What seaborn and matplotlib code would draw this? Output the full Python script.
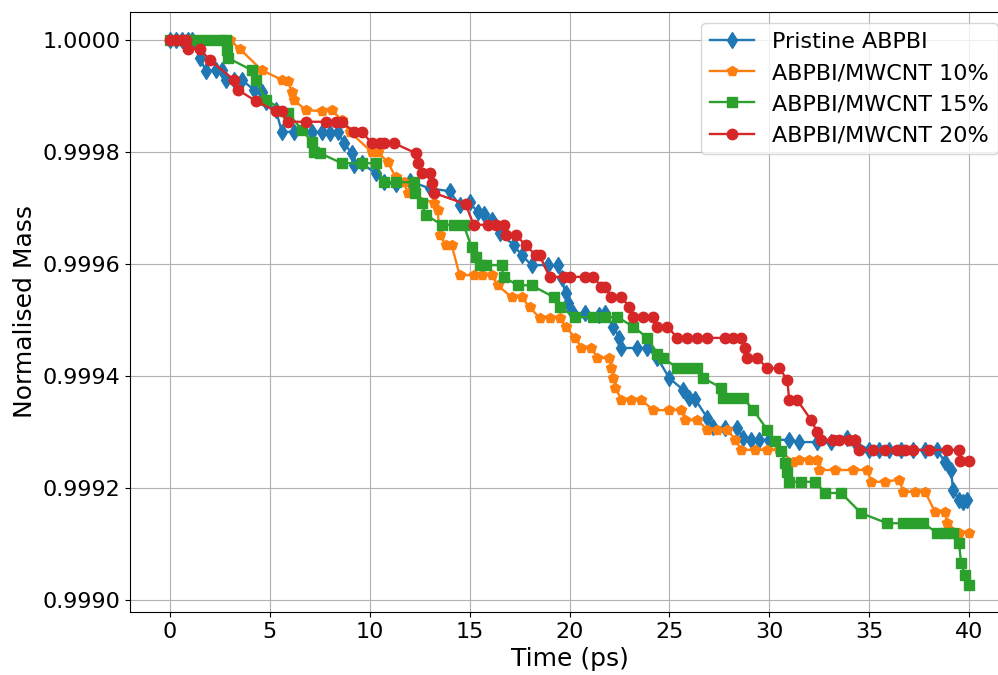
import matplotlib
matplotlib.use("Agg")
import matplotlib.pyplot as plt
import seaborn as sns
import numpy as np
import pandas as pd
from matplotlib.ticker import FormatStrFormatter, MultipleLocator

# ---- data (time in ps, mass loss read as units of 1e-5) ----
t_pristine = [0, 0.3, 0.6, 0.9, 1.1, 1.5, 1.8, 2.3, 2.6, 2.8, 3.2, 3.6, 4.2, 4.6, 4.8, 5.3, 5.6, 6.2, 7.1, 7.6,
              8.0, 8.4, 8.7, 9.1, 9.2, 9.6, 10.3, 10.7, 11.3, 12.0, 13.0, 14.0, 14.5, 15.0, 15.4, 15.7, 16.1, 16.5,
              17.2, 17.6, 18.1, 18.9, 19.4, 19.6, 19.8, 19.9, 20.2, 20.8, 21.5, 21.8, 22.2, 22.5, 22.6, 23.4, 23.9,
              24.4, 25.0, 25.7, 26.0, 26.3, 26.9, 27.2, 27.8, 28.4, 28.7, 29.1, 29.5, 30.0, 31.0, 31.5, 32.4, 33.1,
              33.9, 34.3, 35.0, 35.5, 36.0, 36.6, 37.2, 37.8, 38.4, 38.8, 39.1, 39.2, 39.5, 39.7, 39.9]
d_pristine = [0, 0, 0, 0, 0, 3.2, 5.6, 5.4, 5.4, 7.1, 7.1, 7.1, 8.9, 9.3, 11.0, 12.5, 16.4, 16.4, 16.4, 16.4,
              16.6, 16.4, 18.4, 20.2, 22.3, 22.0, 23.8, 25.4, 25.8, 25.2, 26.5, 27.0, 29.5, 29.0, 30.7, 31.0, 32.1,
              34.5, 36.6, 38.4, 40.2, 40.2, 40.2, 42.5, 45.2, 47.0, 48.8, 48.8, 49.2, 48.8, 51.2, 53.2, 55.0, 55.0,
              55.0, 56.8, 60.4, 62.5, 63.9, 64.2, 67.5, 69.1, 69.3, 69.3, 71.1, 71.4, 71.4, 71.4, 71.4, 71.8, 71.8,
              71.8, 71.1, 71.8, 73.2, 73.2, 73.2, 73.2, 73.2, 73.2, 73.2, 75.4, 76.8, 80.4, 82.1, 82.5, 82.1]

t_10 = [0, 0.5, 1.0, 1.5, 2.0, 2.5, 3.0, 3.5, 4.6, 5.6, 5.9, 6.1, 6.2, 6.8, 7.6, 8.1, 8.6, 9.0, 10.1, 10.4,
        10.9, 11.3, 11.7, 11.9, 13.2, 13.4, 13.5, 13.8, 14.1, 14.5, 15.2, 15.6, 16.1, 16.4, 17.1, 17.6, 18.0,
        18.5, 19.0, 19.5, 19.8, 20.3, 20.6, 21.1, 21.4, 22.0, 22.1, 22.2, 22.3, 22.6, 23.1, 23.6, 24.2, 25.0,
        25.6, 25.8, 26.4, 26.9, 27.4, 27.9, 28.3, 28.6, 29.3, 29.9, 30.5, 31.2, 31.5, 32.0, 32.4, 32.5, 33.3,
        34.2, 34.9, 35.1, 35.8, 36.5, 36.7, 37.3, 37.8, 38.3, 38.8, 38.9, 39.5, 40.0]
d_10 = [0, 0, 0, 0, 0, 0, 0, 1.6, 5.4, 7.1, 7.4, 9.3, 10.7, 12.5, 12.7, 12.5, 14.3, 16.4, 20.0, 20.0,
        21.8, 24.5, 25.4, 27.3, 29.1, 30.4, 34.8, 36.6, 36.6, 42.0, 42.0, 42.0, 42.0, 43.8, 45.9, 45.9, 47.7,
        49.6, 49.6, 49.6, 51.2, 53.2, 55.0, 55.0, 56.8, 56.8, 58.6, 60.4, 62.1, 64.3, 64.3, 64.3, 66.1, 66.1,
        66.1, 67.9, 67.9, 69.6, 69.6, 69.6, 71.4, 73.2, 73.2, 73.2, 73.2, 75.4, 75.0, 75.0, 75.0, 76.8, 76.8,
        76.8, 76.8, 78.9, 78.9, 78.5, 80.7, 80.7, 80.7, 84.3, 84.3, 86.3, 88.0, 88.0]

t_15 = [0, 0.5, 1.0, 1.5, 2.0, 2.5, 2.8, 2.85, 2.9, 4.1, 4.3, 4.8, 5.9, 6.6, 7.1, 7.2, 7.5, 8.6, 9.6, 10.3,
        10.7, 11.3, 12.2, 12.25, 12.6, 12.8, 13.6, 14.2, 14.7, 15.1, 15.3, 15.5, 15.8, 16.6, 16.7, 17.4, 18.1,
        19.2, 19.5, 20.3, 21.2, 21.8, 22.4, 23.2, 23.9, 24.4, 24.7, 25.4, 25.9, 26.4, 26.7, 27.6, 27.7, 28.2,
        28.7, 29.2, 29.9, 30.3, 30.6, 30.8, 30.9, 31.0, 31.6, 32.3, 32.8, 33.6, 34.6, 35.9, 36.7, 37.2, 37.7,
        38.4, 38.8, 39.2, 39.5, 39.6, 39.8, 40.0]
d_15 = [0, 0, 0, 0, 0, 0, 0, 1.8, 3.2, 5.4, 7.1, 10.7, 13.0, 16.0, 18.2, 20.0, 20.2, 22.0, 22.0, 22.0,
        25.4, 25.4, 25.4, 27.3, 29.1, 31.2, 33.0, 33.0, 33.0, 37.0, 38.8, 40.2, 40.2, 40.2, 42.3, 43.8, 43.8,
        45.9, 47.7, 49.5, 49.5, 49.5, 49.5, 51.2, 53.2, 56.0, 56.8, 58.6, 58.6, 58.6, 60.4, 62.1, 63.9, 63.9,
        63.9, 66.1, 69.6, 71.6, 73.4, 75.5, 77.1, 78.9, 78.9, 78.9, 80.9, 80.9, 84.5, 86.3, 86.3, 86.3, 86.3,
        88.0, 88.0, 88.0, 89.8, 93.4, 95.5, 97.3]

t_20 = [0, 0.3, 0.6, 0.8, 0.9, 1.5, 2.0, 3.2, 3.4, 4.3, 5.3, 5.6, 5.9, 6.8, 7.8, 8.3, 8.6, 9.2, 9.6, 10.1,
        10.5, 10.7, 11.2, 12.3, 12.4, 12.6, 13.0, 13.1, 13.2, 14.8, 15.2, 15.9, 16.3, 16.7, 16.8, 17.3, 17.8,
        18.3, 18.5, 19.0, 19.7, 20.0, 20.8, 21.2, 21.6, 21.8, 22.1, 22.6, 23.0, 23.2, 23.7, 24.2, 24.4, 24.9,
        25.4, 25.9, 26.4, 26.9, 27.8, 28.2, 28.6, 28.8, 28.9, 29.4, 29.9, 30.5, 30.9, 31.0, 31.4, 32.1, 32.4,
        32.6, 33.2, 33.5, 34.0, 34.3, 34.5, 35.2, 35.8, 36.4, 36.8, 37.2, 38.0, 38.9, 39.5, 39.55, 40.0]
d_20 = [0, 0, 0, 0, 1.6, 1.6, 3.6, 7.1, 8.9, 10.9, 12.7, 12.7, 14.6, 14.6, 14.6, 14.6, 14.6, 16.4, 16.4, 18.4,
        18.4, 18.4, 18.4, 20.2, 22.0, 23.8, 23.8, 25.5, 27.3, 29.3, 33.0, 33.0, 33.0, 33.0, 34.8, 34.8, 36.6,
        38.4, 38.4, 42.3, 42.3, 42.3, 42.3, 42.3, 44.1, 44.1, 45.9, 45.9, 47.7, 49.5, 49.5, 49.5, 51.2, 51.2,
        53.2, 53.2, 53.2, 53.2, 53.2, 53.2, 53.2, 55.0, 56.8, 56.8, 58.6, 58.6, 60.7, 64.3, 64.3, 67.9, 70.0,
        71.4, 71.4, 71.4, 71.4, 71.4, 73.2, 73.2, 73.2, 73.2, 73.2, 73.2, 73.2, 73.2, 73.2, 75.2, 75.2]

labels = ["Pristine ABPBI", "ABPBI/MWCNT 10%", "ABPBI/MWCNT 15%", "ABPBI/MWCNT 20%"]
colors = ["#1f77b4", "#ff7f0e", "#2ca02c", "#d62728"]
markers = ["d", "p", "s", "o"]
msizes = [8.5, 7.5, 7.5, 7.5]
series_t = [t_pristine, t_10, t_15, t_20]
series_d = [d_pristine, d_10, d_15, d_20]

plt.rcParams["font.family"] = ["DejaVu Sans"]
fig = plt.figure(figsize=(9.98, 6.75), dpi=100)
ax = fig.add_axes([130 / 998, 1 - 612 / 675, (1009 - 130) / 998, 600 / 675])

for t, d, lab, c, m, ms in zip(series_t, series_d, labels, colors, markers, msizes):
    df = pd.DataFrame({"t": t, "mass": 1 - np.array(d) * 1e-5})
    sns.lineplot(data=df, x="t", y="mass", ax=ax, estimator=None, sort=False,
                 color=c, marker=m, markersize=ms, markeredgecolor=c, markeredgewidth=1,
                 linewidth=1.7, label=lab)

ax.set_xlim(-2, 42)
ax.set_ylim(0.9990 - 0.0000215, 1.0000 + 0.00005)
ax.xaxis.set_major_locator(MultipleLocator(5))
ax.yaxis.set_major_locator(MultipleLocator(0.0002))
ax.yaxis.set_major_formatter(FormatStrFormatter("%.4f"))
ax.grid(True, color="#b0b0b0", linewidth=0.8)
ax.set_axisbelow(True)
ax.tick_params(labelsize=16)
ax.set_xlabel("Time (ps)", fontsize=18)
ax.set_ylabel("Normalised Mass", fontsize=18)
ax.legend(loc="upper right", fontsize=16)

fig.savefig("out.png", dpi=100)
